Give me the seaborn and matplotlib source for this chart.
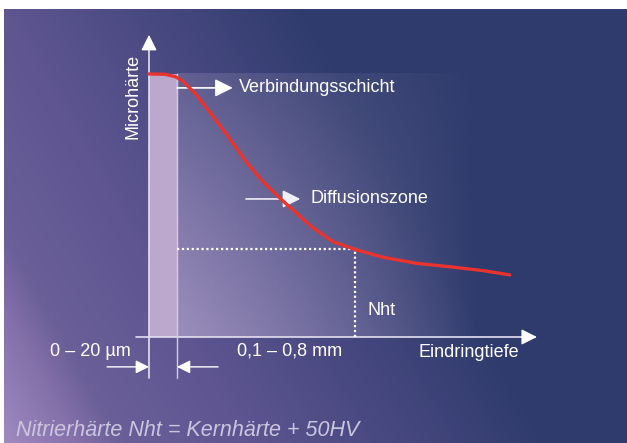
import numpy as np
import pandas as pd
import seaborn as sns
import matplotlib.pyplot as plt
from matplotlib.colors import LinearSegmentedColormap

# hardness profile (arbitrary units: depth 0..100, hardness 0..100)
depth = [0, 4.1, 6.7, 8.4, 11.9, 16.2, 20.4, 24.7, 29.0, 33.3, 37.6, 41.9,
         47.4, 53.1, 60.3, 69.0, 77.6, 86.1, 93.0]
hardness = [90.7, 90.6, 89.8, 88.6, 84.0, 76.6, 69.1, 61.0, 54.1, 48.4, 43.2,
            38.0, 32.9, 30.2, 27.5, 25.4, 24.2, 22.9, 21.4]

layer_end = 7.2        # Verbindungsschicht
surface_hardness = 90.7
nht_depth = 53.1
nht_hardness = 30.2

layer_label = "0 – 20 µm"
diff_label = "0,1 – 0,8 mm"
x_label = "Eindringtiefe"
y_label = "Microhärte"
footer = "Nitrierhärte Nht = Kernhärte + 50HV"

df = pd.DataFrame({"depth": depth, "hardness": hardness})

sns.set_theme(style="white")
plt.rcParams["font.family"] = ["Liberation Sans", "DejaVu Sans"]

W, H = 627, 443
# data <-> pixel mapping for the diagram
ox, oy, sx, sy = 149, 337, 3.88, 2.9
xmin, xmax = -ox / sx, (W - ox) / sx
ymin, ymax = (oy - H) / sy, oy / sy

fig = plt.figure(figsize=(W / 100, H / 100), dpi=100, facecolor="white")
ax = fig.add_axes([0, 0, 1, 1])
ax.set_xlim(xmin, xmax)
ax.set_ylim(ymin, ymax)
ax.axis("off")

# background gradient
cmap = LinearSegmentedColormap.from_list(
    "bg", [(0, "#2f3b6d"), (0.55, "#5e5591"), (0.78, "#6a5f98"),
           (0.86, "#8470aa"), (1, "#a08cc0")])
gx = np.linspace(4, W, 400) / W
gy = np.linspace(9, H, 300) / H
U, V = np.meshgrid(gx, gy)
S = np.clip(1 - (1.14 * U + 0.45 * (1 - V)), 0, 1)
ax.imshow(S, cmap=cmap, vmin=0, vmax=1, origin="upper", aspect="auto",
          extent=(xmin + 4 / sx, xmax, ymin, (oy - 9) / sy), zorder=0)

# light glow of the diffusion zone
rx = np.linspace(0, 300, 300)
ry = np.linspace(0, 264, 200)
RX, RY = np.meshgrid(rx, ry)
alpha = 0.51 * np.clip(1 - RX / 300, 0, 1) ** 0.86 * (1 - 0.63 * RY / 264)
glow = np.zeros((200, 300, 4))
glow[..., 0], glow[..., 1], glow[..., 2] = 214 / 255, 198 / 255, 230 / 255
glow[..., 3] = alpha
ax.imshow(glow, origin="lower", aspect="auto",
          extent=(layer_end, layer_end + 300 / sx, 0, surface_hardness), zorder=1)

# compound layer band
ax.bar(0, surface_hardness, width=layer_end, align="edge", color="#bca8cd",
       edgecolor="none", zorder=2)

line_c = "#e4e0ee"
# axes
ax.plot([0, 0], [-14.1, 100], color=line_c, lw=1.2, zorder=3)
ax.annotate("", xy=(0, 104.2), xytext=(0, 99.5),
            arrowprops=dict(arrowstyle="-|>", color="white", lw=1, mutation_scale=24,
                            shrinkA=0, shrinkB=0), zorder=4)
ax.plot([-3.35, 97], [0, 0], color=line_c, lw=1.2, zorder=3)
ax.annotate("", xy=(100, 0), xytext=(96, 0),
            arrowprops=dict(arrowstyle="-|>", color="white", lw=1, mutation_scale=24,
                            shrinkA=0, shrinkB=0), zorder=4)
ax.plot([layer_end, layer_end], [-14.1, surface_hardness], color="#d6cce2", lw=1, zorder=3)

# Nht dotted guides
ax.plot([layer_end, nht_depth], [nht_hardness, nht_hardness], color="white",
        lw=1.6, ls=(0, (1, 1.2)), zorder=3)
ax.plot([nht_depth, nht_depth], [0, nht_hardness], color="white",
        lw=1.6, ls=(0, (1, 1.2)), zorder=3)

# hardness curve
sns.lineplot(data=df, x="depth", y="hardness", color="#e8332e", lw=2.4,
             ax=ax, zorder=5)
ax.set_xlim(xmin, xmax)
ax.set_ylim(ymin, ymax)

fs = 13
# labels with pointer arrows
ax.annotate("", xy=(21.6, 85.9), xytext=(layer_end, 85.9),
            arrowprops=dict(arrowstyle="-|>", color="white", lw=1.2, mutation_scale=27,
                            shrinkA=0, shrinkB=0), zorder=4)
ax.text(23.2, 85.9, "Verbindungsschicht", color="white", fontsize=fs,
        va="center", ha="left", zorder=6)
ax.annotate("", xy=(39.0, 47.6), xytext=(25.0, 47.6),
            arrowprops=dict(arrowstyle="-|>", color="#f0eef6", lw=1.2, mutation_scale=27,
                            shrinkA=0, shrinkB=0), zorder=4)
ax.text(41.5, 47.6, "Diffusionszone", color="white", fontsize=fs,
        va="center", ha="left", zorder=6)
ax.text(56.4, 9.0, "Nht", color="white", fontsize=fs, va="center", ha="left", zorder=6)

# bottom dimension arrows
ax.annotate("", xy=(0, -10.3), xytext=(-10.8, -10.3),
            arrowprops=dict(arrowstyle="-|>", color="white", lw=1, mutation_scale=20,
                            shrinkA=0, shrinkB=0), zorder=4)
ax.annotate("", xy=(layer_end, -10.3), xytext=(17.8, -10.3),
            arrowprops=dict(arrowstyle="-|>", color="white", lw=1, mutation_scale=20,
                            shrinkA=0, shrinkB=0), zorder=4)
ax.text(-4.6, -5.0, layer_label, color="white", fontsize=fs, va="center", ha="right")
ax.text(36.1, -5.0, diff_label, color="white", fontsize=fs, va="center", ha="center")
ax.text(82.5, -5.3, x_label, color="white", fontsize=fs, va="center", ha="center")
ax.text(-4.0, 82.8, y_label, color="white", fontsize=fs, va="center", ha="center",
        rotation=90)

ax.text(-34.3, -32.1, footer, color="#cbc6df", fontsize=15.5, style="italic",
        va="center", ha="left")

fig.savefig("out.png", dpi=100, facecolor="white")
